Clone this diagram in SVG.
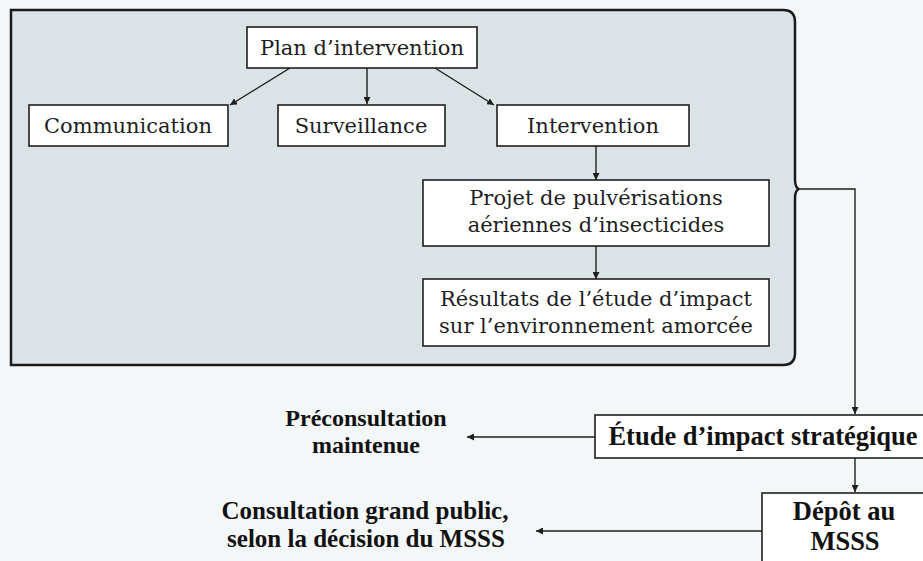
<svg xmlns="http://www.w3.org/2000/svg" width="923" height="561" viewBox="0 0 923 561">
<defs>
<style>
.box{fill:#ffffff;stroke:#1e1e1e;stroke-width:1.6}
.t{font-family:"DejaVu Serif","Liberation Serif",serif;font-size:21px;fill:#1e1e1e;text-anchor:middle}
.b{font-family:"Liberation Serif",serif;font-weight:bold;font-size:25px;fill:#111;text-anchor:middle}
.c{fill:none;stroke:#1e1e1e;stroke-width:1.4}
</style>
<marker id="ah" viewBox="0 0 10 10" refX="10" refY="5" markerWidth="7" markerHeight="7" markerUnits="userSpaceOnUse" orient="auto">
<path d="M0,0 L10,5 L0,10 Z" fill="#1e1e1e"/>
</marker>
</defs>
<rect width="923" height="561" fill="#f4f7f8"/>
<g id="panel">
<path d="M11,10 H783 Q795,10 795,22 V179 Q795,188 799,189 Q795,190 795,199 V353 Q795,365 783,365 H11 Z" fill="#dce3e6" stroke="#1a1a1a" stroke-width="2.5"/>
</g>
<g id="connectors">
<line class="c" x1="290" y1="68" x2="230" y2="105" marker-end="url(#ah)"/>
<line class="c" x1="367" y1="68" x2="367" y2="104" marker-end="url(#ah)"/>
<line class="c" x1="435" y1="68" x2="494" y2="105" marker-end="url(#ah)"/>
<line class="c" x1="596" y1="146" x2="596" y2="180" marker-end="url(#ah)"/>
<line class="c" x1="596" y1="246" x2="596" y2="279" marker-end="url(#ah)"/>
<polyline class="c" points="799,189 855,189 855,414" marker-end="url(#ah)"/>
<line class="c" x1="855" y1="458" x2="855" y2="492" marker-end="url(#ah)"/>
<line class="c" x1="595" y1="437" x2="467" y2="437" marker-end="url(#ah)"/>
<line class="c" x1="762" y1="531" x2="536" y2="531" marker-end="url(#ah)"/>
</g>
<g id="plan">
<rect class="box" x="247" y="27" width="230" height="41"/>
<text class="t" x="362" y="55">Plan d’intervention</text>
</g>
<g id="communication">
<rect class="box" x="29" y="105" width="199" height="41"/>
<text class="t" x="128" y="133">Communication</text>
</g>
<g id="surveillance">
<rect class="box" x="278" y="105" width="167" height="41"/>
<text class="t" x="361" y="133">Surveillance</text>
</g>
<g id="intervention">
<rect class="box" x="497" y="105" width="192" height="41"/>
<text class="t" x="593" y="133">Intervention</text>
</g>
<g id="projet">
<rect class="box" x="423" y="180" width="346" height="66"/>
<text class="t" x="596" y="205">Projet de pulvérisations</text>
<text class="t" x="596" y="232">aériennes d’insecticides</text>
</g>
<g id="resultats">
<rect class="box" x="423" y="279" width="346" height="67"/>
<text class="t" x="596" y="306">Résultats de l’étude d’impact</text>
<text class="t" x="596" y="333">sur l’environnement amorcée</text>
</g>
<g id="etude">
<rect class="box" x="595" y="415" width="340" height="43"/>
<text class="b" x="763" y="445" style="font-size:26.5px">Étude d’impact stratégique</text>
</g>
<g id="depot">
<rect class="box" x="762" y="493" width="180" height="80"/>
<text class="b" x="844" y="520" style="font-size:26.5px">Dépôt au</text>
<text class="b" x="845" y="550" style="font-size:26.5px">MSSS</text>
</g>
<g id="preconsultation">
<text class="b" x="366" y="426" style="font-size:24px">Préconsultation</text>
<text class="b" x="366" y="453" style="font-size:24px">maintenue</text>
</g>
<g id="consultation">
<text class="b" x="365" y="519">Consultation grand public,</text>
<text class="b" x="366" y="547">selon la décision du MSSS</text>
</g>
</svg>
